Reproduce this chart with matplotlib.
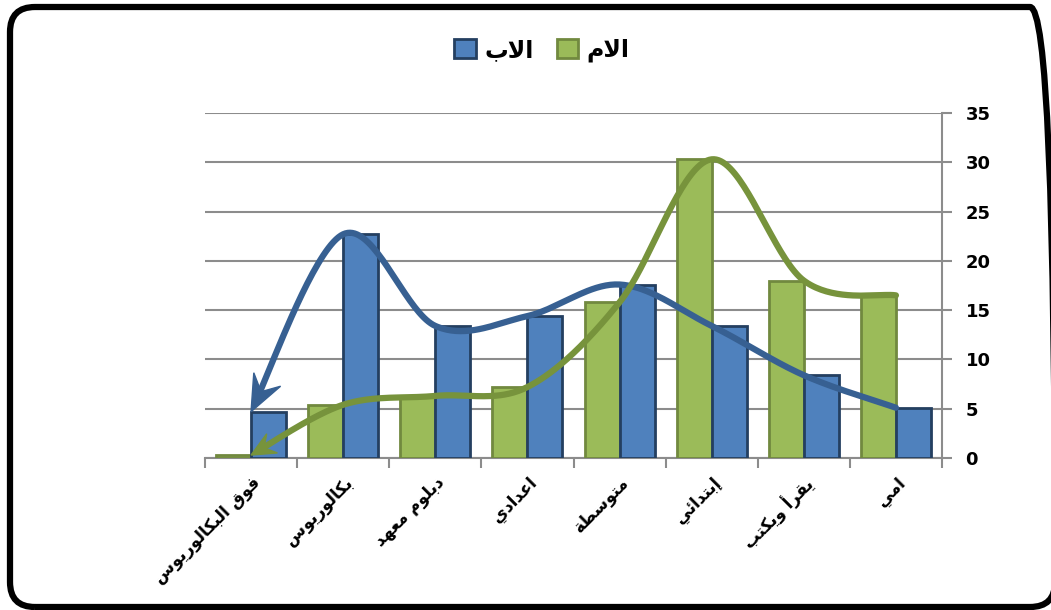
import numpy as np
import matplotlib
matplotlib.use('Agg')
import matplotlib.pyplot as plt
from matplotlib.patches import FancyBboxPatch, Patch, Polygon
from matplotlib.transforms import IdentityTransform

# Daten (Reihenfolge wie im Original, von rechts nach links)
categories = ['امي', 'يقرأ ويكتب', 'إبتدائي', 'متوسطة', 'اعدادي', 'دبلوم معهد', 'بكالوريوس', 'فوق البكالوريوس']
mother = [16.5, 18.0, 30.3, 15.8, 7.2, 6.3, 5.4, 0.3]   # الام
father = [5.1, 8.4, 13.4, 17.6, 14.4, 13.4, 22.7, 4.7]  # الاب
series_names = ['الام', 'الاب']
y_ticks = [0, 5, 10, 15, 20, 25, 30, 35]

# Arabisch formen (matplotlib kann kein Shaping / Bidi)
FORMS = {
    'ا': ('\uFE8D', '\uFE8E', None, None),
    'أ': ('\uFE83', '\uFE84', None, None),
    'إ': ('\uFE87', '\uFE88', None, None),
    'ب': ('\uFE8F', '\uFE90', '\uFE91', '\uFE92'),
    'ة': ('\uFE93', '\uFE94', None, None),
    'ت': ('\uFE95', '\uFE96', '\uFE97', '\uFE98'),
    'ئ': ('\uFE89', '\uFE8A', '\uFE8B', '\uFE8C'),
    'د': ('\uFEA9', '\uFEAA', None, None),
    'ر': ('\uFEAD', '\uFEAE', None, None),
    'س': ('\uFEB1', '\uFEB2', '\uFEB3', '\uFEB4'),
    'ط': ('\uFEC1', '\uFEC2', '\uFEC3', '\uFEC4'),
    'ع': ('\uFEC9', '\uFECA', '\uFECB', '\uFECC'),
    'ف': ('\uFED1', '\uFED2', '\uFED3', '\uFED4'),
    'ق': ('\uFED5', '\uFED6', '\uFED7', '\uFED8'),
    'ك': ('\uFED9', '\uFEDA', '\uFEDB', '\uFEDC'),
    'ل': ('\uFEDD', '\uFEDE', '\uFEDF', '\uFEE0'),
    'م': ('\uFEE1', '\uFEE2', '\uFEE3', '\uFEE4'),
    'ه': ('\uFEE9', '\uFEEA', '\uFEEB', '\uFEEC'),
    'و': ('\uFEED', '\uFEEE', None, None),
    'ي': ('\uFEF1', '\uFEF2', '\uFEF3', '\uFEF4'),
}
LAM_ALEF = {'ا': ('\uFEFB', '\uFEFC'), 'أ': ('\uFEF7', '\uFEF8'), 'إ': ('\uFEF9', '\uFEFA')}


def shape(text):
    out = []
    i = 0
    n = len(text)
    while i < n:
        c = text[i]
        if c not in FORMS:
            out.append(c)
            i += 1
            continue
        prev = text[i - 1] if i > 0 else None
        prev_joins = prev in FORMS and FORMS[prev][2] is not None
        if c == 'ل' and i + 1 < n and text[i + 1] in LAM_ALEF:
            out.append(LAM_ALEF[text[i + 1]][1 if prev_joins else 0])
            i += 2
            continue
        nxt = text[i + 1] if i + 1 < n else None
        next_joins = nxt in FORMS and FORMS[c][2] is not None
        iso, fin, ini, med = FORMS[c]
        if prev_joins and next_joins:
            out.append(med)
        elif prev_joins:
            out.append(fin)
        elif next_joins:
            out.append(ini)
        else:
            out.append(iso)
        i += 1
    return ''.join(out)[::-1]


def catmull_rom(xs, ys, steps=40):
    pts = np.column_stack([xs, ys]).astype(float)
    pts = np.vstack([pts[0], pts, pts[-1]])
    res = []
    for k in range(1, len(pts) - 2):
        p0, p1, p2, p3 = pts[k - 1], pts[k], pts[k + 1], pts[k + 2]
        t = np.linspace(0, 1, steps, endpoint=False)[:, None]
        seg = 0.5 * ((2 * p1) + (-p0 + p2) * t + (2 * p0 - 5 * p1 + 4 * p2 - p3) * t ** 2
                     + (-p0 + 3 * p1 - 3 * p2 + p3) * t ** 3)
        res.append(seg)
    res.append(pts[-2][None, :])
    return np.vstack(res)


green = '#9BBB59'
green_edge = '#71893F'
green_line = '#77933C'
blue = '#4F81BD'
blue_edge = '#243F60'
blue_line = '#376092'
grid_col = '#8C8C8C'

plt.rcParams['font.family'] = 'DejaVu Sans'
plt.rcParams['font.weight'] = 'bold'

fig = plt.figure(figsize=(10.51, 6.10), dpi=100)
ax = fig.add_axes([205 / 1051, 152 / 610, 737 / 1051, 345 / 610])

x = np.arange(len(categories))
w = 0.38
ax.bar(x + w / 2, mother, w, color=green, edgecolor=green_edge, linewidth=2.0, zorder=3)
ax.bar(x - w / 2, father, w, color=blue, edgecolor=blue_edge, linewidth=2.0, zorder=3)

ax.set_xlim(len(categories) - 0.5, -0.5)
ax.set_ylim(0, 35)

# geschwungene Pfeile durch die Balkenspitzen (Pfeilspitze in Pixeln gebaut)
for vals, col, L, H in [(father, blue_line, 36, 15), (mother, green_line, 24, 11)]:
    curve = catmull_rom(x, vals)
    pix = ax.transData.transform(curve)
    tip = pix[-1]
    d = pix[-1] - pix[-2]
    d = d / np.hypot(*d)
    nrm = np.array([-d[1], d[0]])
    back = tip - d * L
    head = [tip, back + nrm * H, tip - d * L * 0.62, back - nrm * H]
    keep = np.hypot(*(pix - tip).T) > L * 0.5
    ax.plot(curve[keep, 0], curve[keep, 1], color=col, linewidth=4.5,
            solid_capstyle='round', solid_joinstyle='round', zorder=5)
    ax.add_patch(Polygon(head, closed=True, transform=IdentityTransform(),
                         facecolor=col, edgecolor=col, linewidth=1, zorder=6, clip_on=False))

ax.set_yticks(y_ticks)
ax.yaxis.tick_right()
ax.set_xticks(np.arange(len(categories) + 1) - 0.5)
ax.set_xticklabels([])
ax.tick_params(axis='x', length=7, width=1.5, color=grid_col)
ax.tick_params(axis='y', length=7, width=1.5, color=grid_col, labelsize=13, pad=10)
for lab in ax.get_yticklabels():
    lab.set_fontweight('bold')
ax.grid(axis='y', color=grid_col, linewidth=1.5, zorder=0)
ax.set_axisbelow(True)
for s in ['top', 'left']:
    ax.spines[s].set_visible(False)
for s in ['right', 'bottom']:
    ax.spines[s].set_color(grid_col)
    ax.spines[s].set_linewidth(1.5)

for xi, cat in zip(x, categories):
    ax.text(xi, -1.6, shape(cat), rotation=45, ha='right', va='top',
            rotation_mode='anchor', fontsize=12, fontweight='bold')

handles = [Patch(facecolor=blue, edgecolor=blue_edge, linewidth=2),
           Patch(facecolor=green, edgecolor=green_edge, linewidth=2)]
fig.legend(handles, [shape(series_names[1]), shape(series_names[0])], ncol=2,
           loc='center', bbox_to_anchor=(542 / 1051, 1 - 50 / 610), frameon=False,
           prop={'size': 17, 'weight': 'bold'}, handlelength=0.9, handleheight=0.9,
           handletextpad=0.35, columnspacing=1.0)

# abgerundeter Rahmen in Pixeln
frame = FancyBboxPatch((10, 3), 1045, 600, boxstyle='round,pad=0,rounding_size=25',
                       transform=IdentityTransform(), facecolor='none',
                       edgecolor='black', linewidth=4.5, clip_on=False)
fig.patches.append(frame)

fig.savefig('out.png', dpi=100)
